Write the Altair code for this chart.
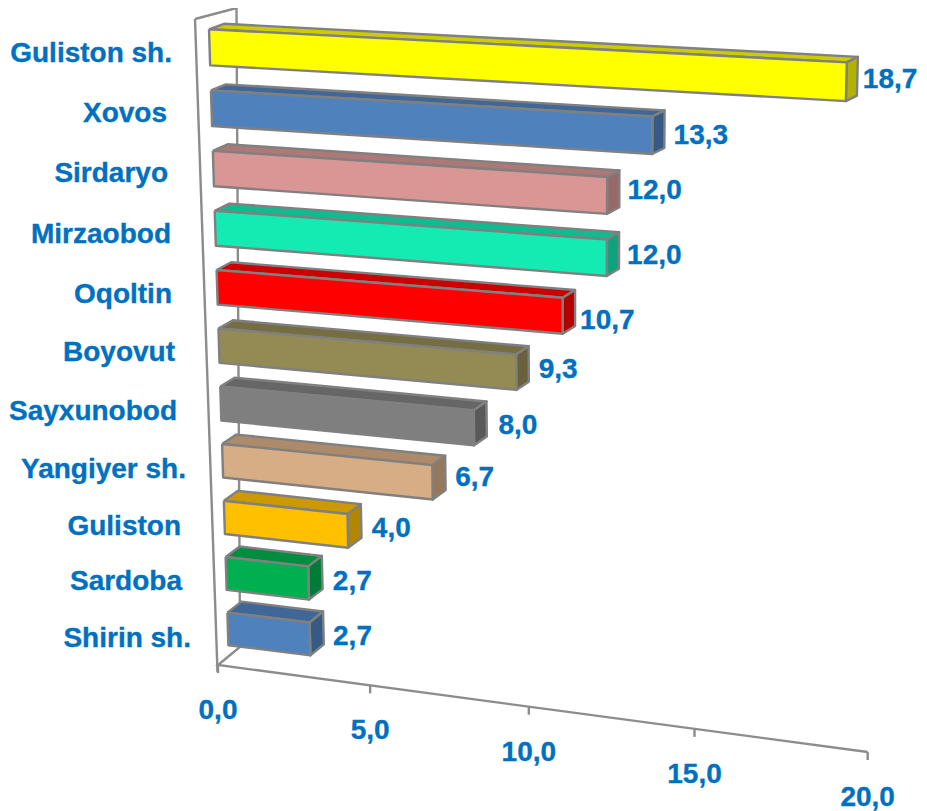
import altair as alt
import numpy as np
import pandas as pd

# ---- chart values (top bar first)
categories = ["Guliston sh.", "Xovos", "Sirdaryo", "Mirzaobod", "Oqoltin", "Boyovut",
              "Sayxunobod", "Yangiyer sh.", "Guliston", "Sardoba", "Shirin sh."]
values = [18.7, 13.3, 12.0, 12.0, 10.7, 9.3, 8.0, 6.7, 4.0, 2.7, 2.7]
value_labels = ["18,7", "13,3", "12,0", "12,0", "10,7", "9,3", "8,0", "6,7", "4,0", "2,7", "2,7"]
colors = ["#FFFF00", "#4F81BD", "#D99694", "#13EBB3", "#FF0000", "#948A54",
          "#7F7F7F", "#D7AD85", "#FFC000", "#00B050", "#4F81BD"]
axis_ticks = [0, 5, 10, 15, 20]
axis_labels = ["0,0", "5,0", "10,0", "15,0", "20,0"]

# ---- layout: perspective calibration (value, row, page x, page y) of bar front top edges
W, H = 911, 803
calib = [(0, 10, 209.5, 29), (18.7, 10, 847, 63), (0, 9, 210.7, 90), (13.3, 9, 652, 115),
         (0, 8, 213, 151), (12, 8, 607, 177), (0, 7, 214.5, 212), (12, 7, 607, 240),
         (0, 1, 225, 556), (2.7, 1, 309, 566), (0, 0, 227, 613), (2.7, 0, 310, 623)]
A, b = [], []
for v, r, x, y in calib:
    A.append([v, r, 1, 0, 0, 0, -x * v, -x * r]); b.append(x)
    A.append([0, 0, 0, v, r, 1, -y * v, -y * r]); b.append(y)
H8 = np.linalg.lstsq(np.array(A, float), np.array(b, float), rcond=None)[0]

def proj(v, r):
    d = H8[6] * v + H8[7] * r + 1
    return (H8[0] * v + H8[1] * r + H8[2]) / d, (H8[3] * v + H8[4] * r + H8[5]) / d

def axis_t(v):
    return 29.8 * v / (1 - 0.00413 * v)

def depth(v, r):
    return 14 + 0.1 * r - 0.21 * v, -(11 - 0.55 * r)

BAR = 0.59
def shade(hex_color, f):
    c = [int(hex_color[i:i + 2], 16) for i in (1, 3, 5)]
    return "#%02X%02X%02X" % tuple(int(round(x * f)) for x in c)

# label placement nudges (layout only)
label_right = [172, 167, 168, 171, 172, 175, 177, 186, 181, 182, 191]
label_dy = [1, 0, -1, 1, 2, 1, -1, 0, 1, 0, 1]
value_dx = [-7, -3, -4, -4, -7, -2, 0, -2, -1, -1, -2]
value_dy = [1, 4, -1, 1, 8, 1, 1, -1, 1, 2, 1]

faces, vlabels, clabels = [], [], []
n = len(values)
for i, (val, col) in enumerate(zip(values, colors)):
    r = n - 1 - i
    p0 = proj(0, r); p1 = proj(val, r); p2 = proj(val, r - BAR); p3 = proj(0, r - BAR)
    dl = depth(0, r); dr = depth(val, r)
    bl = (p0[0] + dl[0], p0[1] + dl[1])
    br = (p1[0] + dr[0], p1[1] + dr[1])
    brb = (p2[0] + dr[0], p2[1] + dr[1])
    polys = [("top", shade(col, 0.8), [p0, bl, br, p1, p0]),
             ("side", shade(col, 0.7), [p1, br, brb, p2, p1]),
             ("front", col, [p0, p1, p2, p3, p0])]
    for name, c, pts in polys:
        for k, (x, y) in enumerate(pts):
            faces.append(dict(face=f"{i}-{name}", fill=c, i=k, x=x, y=y))
    vlabels.append(dict(x=br[0] + 12 + value_dx[i], y=(p1[1] + p2[1]) / 2 - 3 + value_dy[i], t=value_labels[i]))
    clabels.append(dict(x=label_right[i], y=(p0[1] + p3[1]) / 2 + 6 + (3 if r < 5 else 0) + label_dy[i], t=categories[i]))

ox, oy = 218, 665
def ap(v):
    t = axis_t(v)
    return ox + t, oy + 0.134 * t

walls = [(195, 19), (236.5, 8), (240, 647), (218, 665), ap(20)]
lines = [dict(g="wall", i=k, x=x, y=y) for k, (x, y) in enumerate(walls)]
lines += [dict(g="left", i=0, x=195, y=19), dict(g="left", i=1, x=217.5, y=672)]
tlabels = []
for tv, tl in zip(axis_ticks, axis_labels):
    x, y = ap(tv)
    lines += [dict(g=f"t{tv}", i=0, x=x, y=y), dict(g=f"t{tv}", i=1, x=x, y=y + 8)]
    tlabels.append(dict(x=x, y=y + 46, t=tl))

xs = alt.Scale(domain=[8, 8 + W], range=[0, W], nice=False, zero=False)
ys = alt.Scale(domain=[8, 8 + H], range=[0, H], nice=False, zero=False)
X = alt.X("x:Q", scale=xs, axis=None)
Y = alt.Y("y:Q", scale=ys, axis=None)

line_layer = alt.Chart(pd.DataFrame(lines)).mark_line(color="#8C8C8C", strokeWidth=2.4).encode(
    X, Y, order="i:Q", detail="g:N")
face_layer = alt.Chart(pd.DataFrame(faces)).mark_line(
    stroke="#808080", strokeWidth=2.4, strokeJoin="round").encode(
    X, Y, order="i:Q", detail="face:N", fill=alt.Fill("fill:N", scale=None))

def text(rows, align):
    return alt.Chart(pd.DataFrame(rows)).mark_text(
        font="Liberation Sans", fontWeight="bold", fontSize=28, color="#0070C0",
        stroke="#0070C0", strokeWidth=0.35,
        align=align, baseline="middle").encode(X, Y, text="t:N")

chart = alt.layer(line_layer, face_layer, text(vlabels, "left"), text(clabels, "right"),
                  text(tlabels, "center")).properties(
    width=W, height=H, padding=0, autosize=alt.AutoSizeParams(type="none")
).configure_view(stroke=None)

chart.save("out.html", embed_options={"renderer": "svg", "actions": False})
